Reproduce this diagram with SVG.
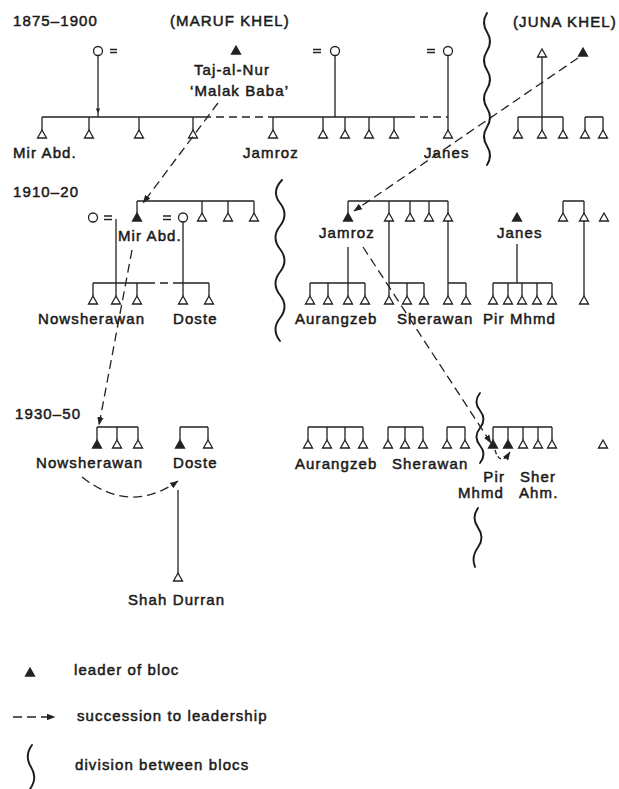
<svg xmlns="http://www.w3.org/2000/svg" width="619" height="789" viewBox="0 0 619 789">
<style>
.t{font-family:"Liberation Sans",Arial,Helvetica,sans-serif;font-size:15px;letter-spacing:1.1px;fill:#1a1a1a;stroke:#1a1a1a;stroke-width:0.5px}
.l{stroke:#222;stroke-width:1.3;fill:none}
.d{stroke:#222;stroke-width:1.3;fill:none;stroke-dasharray:8 5}
.a{stroke:#222;stroke-width:1.3;fill:none;stroke-dasharray:9 5}
.h{fill:#fff;stroke:#222;stroke-width:1.3;stroke-linejoin:miter}
.f{fill:#222;stroke:#222;stroke-width:1.3;stroke-linejoin:miter}
.c{fill:#fff;stroke:#222;stroke-width:1.3}
.w{stroke:#1a1a1a;stroke-width:1.9;fill:none;stroke-linecap:round}
.r{text-anchor:end}
</style>
<defs>
<path id="tr" d="M0 0 L4.5 8 L-4.5 8 Z"/>
<marker id="ah" markerWidth="9" markerHeight="8" refX="8" refY="4" orient="auto" markerUnits="userSpaceOnUse"><path d="M0 0.8 L8.5 4 L0 7.2 Z" fill="#222"/></marker>
</defs>
<rect width="619" height="789" fill="#fff"/>

<g id="gen1-maruf-khel">
<text class="t" x="13" y="26">1875–1900</text>
<text class="t" x="170" y="26">(MARUF KHEL)</text>
<circle class="c" cx="98" cy="51" r="4.5"/>
<path class="l" d="M110 49.5H117M110 52.5H117"/>
<path class="l" d="M98 55.5V117"/>
<path d="M95.8 108.5H100.2L98 113Z" fill="#222"/>
<path class="l" d="M42 117H203M270 117H407"/>
<path class="d" d="M203 117H270M407 117H448"/>
<path class="l" d="M42 117V130M89 117V130M139 117V130M193 117V130M273 117V130M323 117V130M345 117V130M369 117V130M394 117V130"/>
<use href="#tr" x="42" y="130" class="h"/>
<use href="#tr" x="89" y="130" class="h"/>
<use href="#tr" x="139" y="130" class="h"/>
<use href="#tr" x="193" y="130" class="h"/>
<use href="#tr" x="273" y="130" class="h"/>
<use href="#tr" x="323" y="130" class="h"/>
<use href="#tr" x="345" y="130" class="h"/>
<use href="#tr" x="369" y="130" class="h"/>
<use href="#tr" x="394" y="130" class="h"/>
<text class="t" x="13" y="158">Mir Abd.</text>
<text class="t" x="243" y="158">Jamroz</text>
</g>

<g id="taj-al-nur">
<use href="#tr" x="236" y="46" class="f"/>
<text class="t" x="194" y="75">Taj-al-Nur</text>
<text class="t" x="190" y="96">‘Malak Baba’</text>
</g>

<g id="gen1-wife-2">
<circle class="c" cx="335" cy="51" r="4.5"/>
<path class="l" d="M313 49.5H321M313 52.5H321M335 55.5V117"/>
</g>

<g id="gen1-janes">
<circle class="c" cx="448" cy="51" r="4.5"/>
<path class="l" d="M427 49.5H435M427 52.5H435M448 55.5V130"/>
<use href="#tr" x="448" y="130" class="h"/>
<text class="t" x="424" y="158">Janes</text>
</g>

<g id="gen1-juna-khel">
<text class="t" x="513" y="27">(JUNA KHEL)</text>
<use href="#tr" x="542" y="49" class="h"/>
<path class="l" d="M542 57V130M518 117H563M518 117V130M563 117V130M585 117H603M585 117V130M603 117V130"/>
<use href="#tr" x="518" y="130" class="h"/>
<use href="#tr" x="542" y="130" class="h"/>
<use href="#tr" x="563" y="130" class="h"/>
<use href="#tr" x="585" y="130" class="h"/>
<use href="#tr" x="603" y="130" class="h"/>
<use href="#tr" x="583" y="48" class="f"/>
</g>

<g id="gen2-mir-abd">
<text class="t" x="13" y="197">1910–20</text>
<circle class="c" cx="93" cy="217.5" r="4.5"/>
<path class="l" d="M104 216H112M104 219.5H112M116 219V296"/>
<path class="l" d="M137 201H254M137 201V213M202 201V213M228 201V213M254 201V213"/>
<use href="#tr" x="137" y="213" class="f"/>
<use href="#tr" x="202" y="213" class="h"/>
<use href="#tr" x="228" y="213" class="h"/>
<use href="#tr" x="254" y="213" class="h"/>
<circle class="c" cx="183" cy="217.5" r="4.5"/>
<path class="l" d="M163 216H171M163 219.5H171M183 222V296"/>
<text class="t" x="118" y="241">Mir Abd.</text>
<path class="l" d="M93 283H147M180 283H209M93 283V296M137 283V296M209 283V296"/>
<path class="d" d="M147 283H180"/>
<use href="#tr" x="93" y="296" class="h"/>
<use href="#tr" x="116" y="296" class="h"/>
<use href="#tr" x="137" y="296" class="h"/>
<use href="#tr" x="183" y="296" class="h"/>
<use href="#tr" x="209" y="296" class="h"/>
<text class="t" x="38" y="324">Nowsherawan</text>
<text class="t" x="173" y="324">Doste</text>
</g>

<g id="gen2-jamroz">
<path class="l" d="M348 201H448M348 201V213M389 201V213M410 201V213M429 201V213M448 201V213"/>
<use href="#tr" x="348" y="213" class="f"/>
<use href="#tr" x="389" y="213" class="h"/>
<use href="#tr" x="410" y="213" class="h"/>
<use href="#tr" x="429" y="213" class="h"/>
<use href="#tr" x="448" y="213" class="h"/>
<text class="t" x="319" y="238">Jamroz</text>
<path class="l" d="M348 247V296M310 283H365M310 283V296M328 283V296M365 283V296"/>
<path class="l" d="M389 221V296M389 283H424M407 283V296M424 283V296"/>
<path class="l" d="M448 221V296M448 283H466M466 283V296"/>
<use href="#tr" x="310" y="296" class="h"/>
<use href="#tr" x="328" y="296" class="h"/>
<use href="#tr" x="348" y="296" class="h"/>
<use href="#tr" x="365" y="296" class="h"/>
<use href="#tr" x="389" y="296" class="h"/>
<use href="#tr" x="407" y="296" class="h"/>
<use href="#tr" x="424" y="296" class="h"/>
<use href="#tr" x="448" y="296" class="h"/>
<use href="#tr" x="466" y="296" class="h"/>
<text class="t" x="295" y="324">Aurangzeb</text>
<text class="t" x="397" y="324">Sherawan</text>
</g>

<g id="gen2-janes">
<use href="#tr" x="517" y="213" class="f"/>
<text class="t" x="497" y="238">Janes</text>
<path class="l" d="M517 244V283M493 283H552M493 283V296M508 283V296M522 283V296M537 283V296M552 283V296"/>
<use href="#tr" x="493" y="296" class="h"/>
<use href="#tr" x="508" y="296" class="h"/>
<use href="#tr" x="522" y="296" class="h"/>
<use href="#tr" x="537" y="296" class="h"/>
<use href="#tr" x="552" y="296" class="h"/>
<text class="t" x="483" y="324">Pir Mhmd</text>
</g>

<g id="gen2-juna-right">
<path class="l" d="M563 201H584M563 201V213M584 201V296"/>
<use href="#tr" x="563" y="213" class="h"/>
<use href="#tr" x="584" y="213" class="h"/>
<use href="#tr" x="604" y="213" class="h"/>
<use href="#tr" x="584" y="296" class="h"/>
</g>

<g id="gen3-left">
<text class="t" x="15" y="419">1930–50</text>
<path class="l" d="M97 427H138M97 427V440M117 427V440M138 427V440M180 427H208M180 427V440M208 427V440"/>
<use href="#tr" x="97" y="440" class="f"/>
<use href="#tr" x="117" y="440" class="h"/>
<use href="#tr" x="138" y="440" class="h"/>
<use href="#tr" x="180" y="440" class="f"/>
<use href="#tr" x="208" y="440" class="h"/>
<text class="t" x="36" y="468">Nowsherawan</text>
<text class="t" x="173" y="468">Doste</text>
</g>

<g id="shah-durran">
<path class="l" d="M178 490V573"/>
<use href="#tr" x="178" y="573" class="h"/>
<text class="t" x="128" y="605">Shah Durran</text>
</g>

<g id="gen3-right">
<path class="l" d="M308 427H363M308 427V440M327 427V440M345 427V440M363 427V440"/>
<path class="l" d="M388 427H423M388 427V440M405 427V440M423 427V440"/>
<path class="l" d="M447 427H465M447 427V440M465 427V440"/>
<path class="l" d="M493 427H552M493 427V440M508 427V440M523 427V440M538 427V440M552 427V440"/>
<use href="#tr" x="308" y="440" class="h"/>
<use href="#tr" x="327" y="440" class="h"/>
<use href="#tr" x="345" y="440" class="h"/>
<use href="#tr" x="363" y="440" class="h"/>
<use href="#tr" x="388" y="440" class="h"/>
<use href="#tr" x="405" y="440" class="h"/>
<use href="#tr" x="423" y="440" class="h"/>
<use href="#tr" x="447" y="440" class="h"/>
<use href="#tr" x="465" y="440" class="h"/>
<use href="#tr" x="493" y="440" class="f"/>
<use href="#tr" x="508" y="440" class="f"/>
<use href="#tr" x="523" y="440" class="h"/>
<use href="#tr" x="538" y="440" class="h"/>
<use href="#tr" x="552" y="440" class="h"/>
<use href="#tr" x="603" y="440" class="h"/>
<text class="t" x="295" y="469">Aurangzeb</text>
<text class="t" x="392" y="469">Sherawan</text>
<text class="t r" x="505" y="482">Pir</text>
<text class="t r" x="504" y="498">Mhmd</text>
<text class="t" x="520" y="482">Sher</text>
<text class="t" x="519" y="498">Ahm.</text>
</g>

<g id="bloc-divisions">
<path class="w" d="M487 13q-6 9.5 0 19t0 19t0 19t0 19t0 19t0 19t0 19t0 19"/>
<path class="w" d="M282 180q-11 11.5 -2 23t0 23t0 23t0 23t0 23t0 23t0 23"/>
<path class="w" d="M480 393q-7 8.75 0 17.5t0 17.5t0 17.5t0 17.5"/>
<path class="w" d="M478 508q-7 9.8 0 19.6t0 19.6t-3 19.6"/>
</g>

<g id="connectors">
<path class="a" d="M218 103L143 203" marker-end="url(#ah)"/>
<path class="a" d="M578 58L354 211" marker-end="url(#ah)"/>
<path class="a" d="M132 250L99 425" marker-end="url(#ah)"/>
<path class="a" d="M363 247L491 443" marker-end="url(#ah)"/>
<path class="a" d="M82 477Q130 515 178 481" marker-end="url(#ah)"/>
<path class="a" style="stroke-dasharray:4 3" d="M495 450Q500 467 510 452" marker-end="url(#ah)"/>
</g>

<g id="legend">
<use href="#tr" x="30" y="668" class="f"/>
<text class="t" x="74" y="675">leader of bloc</text>
<path class="a" d="M13 717H55" marker-end="url(#ah)"/>
<text class="t" x="77" y="721">succession to leadership</text>
<path class="w" d="M32 745q-8 11 -1 22t-1 22"/>
<text class="t" x="75" y="770">division between blocs</text>
</g>
</svg>
